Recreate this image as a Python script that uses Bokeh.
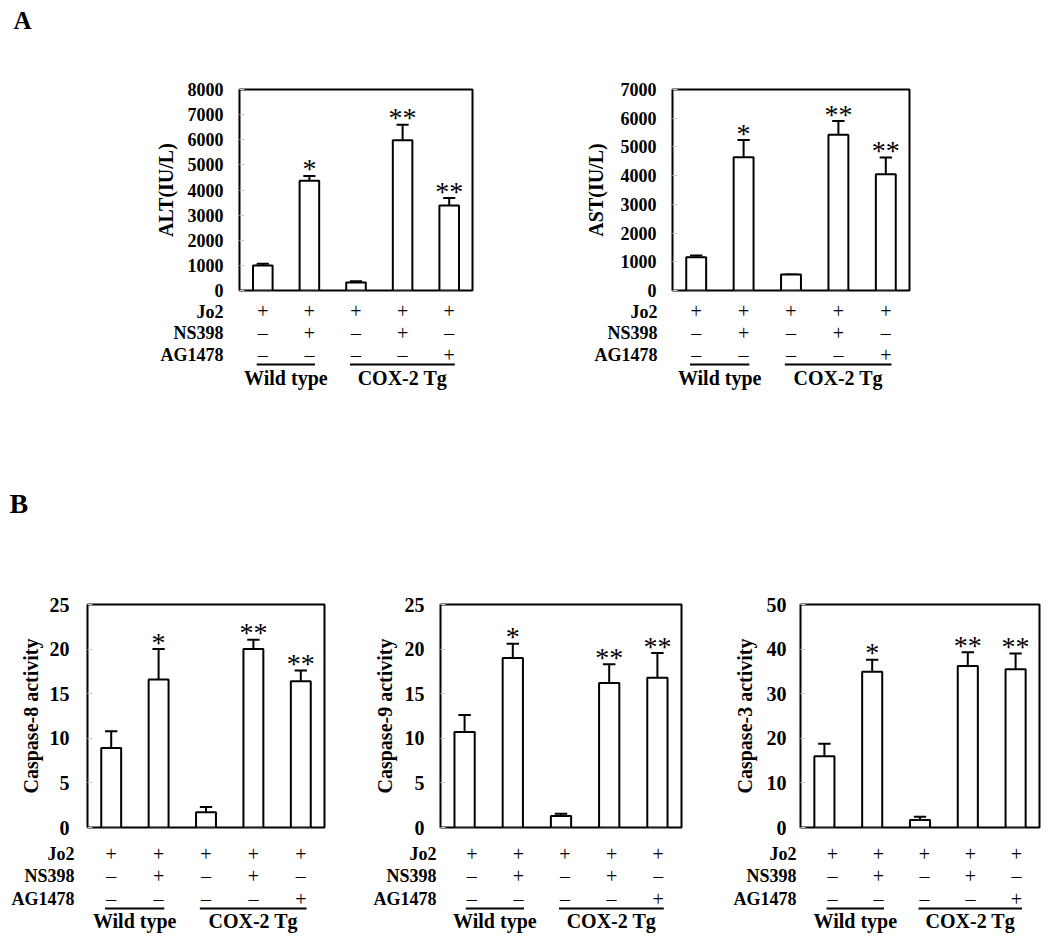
import numpy as np
from bokeh.plotting import figure
from bokeh.models import Range1d, FixedTicker, ColumnDataSource
from bokeh.layouts import column, row
from bokeh.core.properties import value
from bokeh.embed import file_html
from bokeh.resources import INLINE

FONT = "Liberation Serif"

# ---------------- data ----------------
conditions = ["WT Jo2", "WT Jo2+NS398", "Tg Jo2", "Tg Jo2+NS398", "Tg Jo2+AG1478"]
jo2 = ["+", "+", "+", "+", "+"]
ns398 = ["–", "+", "–", "+", "–"]
ag1478 = ["–", "–", "–", "–", "+"]
row_names = ["Jo2", "NS398", "AG1478"]
group_names = ["Wild type", "COX-2 Tg"]
group_first = [0, 2]
group_last = [1, 4]
stars = ["", "*", "", "**", "**"]

alt_mean = [1000, 4370, 320, 5980, 3380]
alt_sem = [60, 190, 50, 620, 300]
ast_mean = [1160, 4640, 560, 5420, 4050]
ast_sem = [60, 600, 0, 480, 580]
casp8_mean = [8.9, 16.6, 1.7, 20.0, 16.4]
casp8_sem = [1.9, 3.4, 0.6, 1.05, 1.2]
casp9_mean = [10.7, 19.0, 1.3, 16.2, 16.8]
casp9_sem = [1.9, 1.6, 0.25, 2.1, 2.75]
casp3_mean = [16.0, 34.9, 1.7, 36.2, 35.5]
casp3_sem = [2.8, 2.7, 0.7, 3.1, 3.5]


def base_fig(**kw):
    p = figure(toolbar_location=None, tools="", output_backend="svg",
               x_axis_location=None, background_fill_color="white",
               border_fill_color="white", **kw)
    p.grid.visible = False
    return p


def panel(mean, sem, ymax, step, title, w, bl, br, h_up, bt, fh, h_low, rows_y,
          tick_size, tick_standoff, title_standoff, row_standoff):
    n = len(mean)
    xs = np.arange(n) + 0.5
    xr = Range1d(0, n)
    up = base_fig(width=w, height=h_up, x_range=xr, y_range=Range1d(0, ymax),
                  y_axis_location="left", min_border_left=bl, min_border_right=br,
                  min_border_top=bt, min_border_bottom=h_up - bt - fh)
    up.outline_line_color = "black"
    up.outline_line_width = 2
    ax = up.yaxis[0]
    ax.ticker = FixedTicker(ticks=list(np.arange(0, ymax + step / 2, step)))
    ax.axis_line_color = None
    ax.major_tick_in = 5
    ax.major_tick_out = 0
    ax.major_tick_line_color = "#c8c8c8"
    ax.minor_tick_line_color = None
    ax.major_label_standoff = tick_standoff
    ax.major_label_text_font = FONT
    ax.major_label_text_font_style = "bold"
    ax.major_label_text_font_size = f"{tick_size}px"
    ax.major_label_text_color = "black"
    ax.axis_label = title
    ax.axis_label_text_font = FONT
    ax.axis_label_text_font_style = "bold"
    ax.axis_label_text_font_size = "20px"
    ax.axis_label_text_color = "black"
    ax.axis_label_standoff = title_standoff

    top = [m + s for m, s in zip(mean, sem)]
    cap = 0.13
    src = ColumnDataSource(dict(x=xs, mean=mean, top=top, x0=xs - cap, x1=xs + cap,
                                star=stars))
    up.segment(x0="x", y0="mean", x1="x", y1="top", source=src,
               line_color="black", line_width=2)
    up.segment(x0="x0", y0="top", x1="x1", y1="top", source=src,
               line_color="black", line_width=2)
    up.vbar(x="x", top="mean", bottom=0, width=0.42, source=src,
            fill_color="white", line_color="black", line_width=2)
    up.text(x="x", y="top", text="star", source=src, text_align="center",
            text_baseline="alphabetic", y_offset=-7, text_font=value(FONT),
            text_font_size=value("28px"), text_color="black")

    lo = base_fig(width=w, height=h_low, x_range=xr, y_range=Range1d(h_low, 0),
                  y_axis_location="left", min_border_left=bl, min_border_right=br,
                  min_border_top=0, min_border_bottom=0)
    lo.outline_line_color = None
    la = lo.yaxis[0]
    la.ticker = FixedTicker(ticks=rows_y[:3])
    la.major_label_overrides = {rows_y[i]: row_names[i] for i in range(3)}
    la.axis_line_color = None
    la.major_tick_line_color = None
    la.minor_tick_line_color = None
    la.major_tick_in = 0
    la.major_tick_out = 0
    la.major_label_standoff = row_standoff
    la.major_label_text_font = FONT
    la.major_label_text_font_style = "bold"
    la.major_label_text_font_size = "18px"
    la.major_label_text_color = "black"

    sx, sy, st = [], [], []
    for i, signs in enumerate([jo2, ns398, ag1478]):
        sx += list(xs)
        sy += [rows_y[i]] * n
        st += signs
    lo.text(x=sx, y=sy, text=st, text_align="center", text_baseline="middle",
            text_font=value(FONT), text_font_size=value("20px"), text_color="black")

    gx0 = [xs[f] - 0.13 for f in group_first]
    gx1 = [xs[l] + 0.12 for l in group_last]
    gy = [rows_y[3]] * len(group_names)
    lo.segment(x0=gx0, y0=gy, x1=gx1, y1=gy, line_color="black", line_width=1.8)
    gc = [(a + b) / 2 for a, b in zip(gx0, gx1)]
    lo.text(x=gc, y=[rows_y[4]] * len(group_names), text=group_names,
            text_align="center", text_baseline="middle", text_font=value(FONT),
            text_font_style=value("bold"), text_font_size=value("20px"),
            text_color="black")
    return up, lo


def header(letter, w, h, x, y, size):
    p = base_fig(width=w, height=h, x_range=Range1d(0, w), y_range=Range1d(0, h),
                 y_axis_location=None, min_border=0)
    p.outline_line_color = None
    p.text(x=[x], y=[y], text=[letter], text_align="left", text_baseline="middle",
           text_font=value(FONT), text_font_style=value("bold"),
           text_font_size=value(f"{size}px"), text_color="black")
    return p


W = 1050
hA = header("A", W, 48, 13, 28, 25)
rA = [9, 31, 53, 63, 76]
a1u, a1l = panel(alt_mean, alt_sem, 8000, 1000, "ALT(IU/L)", 540, 239, 68, 253, 41, 201,
                 179, rA, 18, 16, 8, 16)
a2u, a2l = panel(ast_mean, ast_sem, 7000, 1000, "AST(IU/L)", 510, 132, 141, 253, 41, 201,
                 179, rA, 18, 16, 11, 15)
hB = header("B", W, 58, 9, 35, 28)
rB = [11, 33, 56, 66, 78]
b1u, b1l = panel(casp8_mean, casp8_sem, 25, 5, "Caspase-8 activity", 370, 87, 46, 304, 66,
                 223, 100, rB, 20, 18, 5, 13)
b2u, b2l = panel(casp9_mean, casp9_sem, 25, 5, "Caspase-9 activity", 360, 69, 49, 304, 65,
                 225, 100, rB, 20, 16, 6, 12)
b3u, b3l = panel(casp3_mean, casp3_sem, 50, 10, "Caspase-3 activity", 320, 70, 11, 304, 64,
                 228, 100, rB, 20, 14, 8, 13)

layout = column(hA, row(a1u, a2u), row(a1l, a2l), hB, row(b1u, b2u, b3u),
                row(b1l, b2l, b3l))

open("out.html", "w").write(file_html(layout, INLINE))
